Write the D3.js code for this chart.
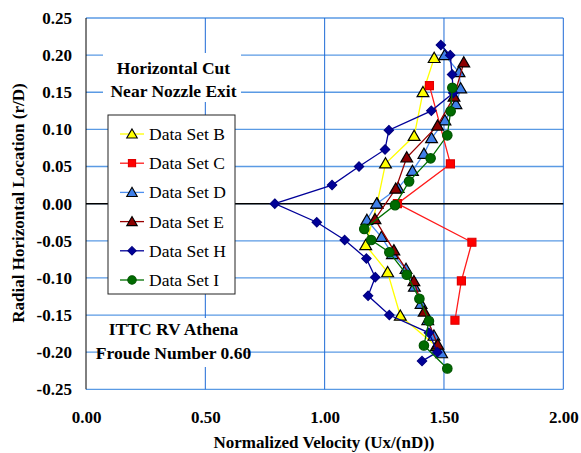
<!DOCTYPE html>
<html><head><meta charset="utf-8">
<script src="https://cdn.jsdelivr.net/npm/d3@7/dist/d3.min.js"></script>
<style>body{margin:0;background:#fff;} svg{display:block;}</style>
</head><body>
<svg id="c" width="581" height="453"></svg>
<script>
const seriesNames = ["Data Set B","Data Set C","Data Set D","Data Set E","Data Set H","Data Set I"];
const xTicks = [0, 0.5, 1.0, 1.5, 2.0];
const yTicks = [0.25,0.20,0.15,0.10,0.05,0.00,-0.05,-0.10,-0.15,-0.20,-0.25];

const B_y = [0.196,0.150,0.091,0.054,0.000,-0.056,-0.0925,-0.151,-0.192];
const B_x = [1.459,1.412,1.375,1.255,1.220,1.172,1.264,1.317,1.468];
const C_y = [0.159,0.0535,0.000,-0.052,-0.104,-0.157];
const C_x = [1.439,1.527,1.305,1.617,1.573,1.546];
const D_y = [0.200,0.177,0.155,0.134,0.112,0.088,0.067,0.044,0.021,0.000,-0.022,-0.045,-0.068,-0.088,-0.112,-0.135,-0.157,-0.178,-0.2016];
const D_x = [1.503,1.563,1.570,1.550,1.504,1.448,1.416,1.368,1.308,1.218,1.177,1.238,1.284,1.341,1.376,1.404,1.432,1.458,1.490];
const E_y = [0.190,0.144,0.105,0.062,0.020,-0.021,-0.063,-0.1046,-0.1455,-0.190];
const E_x = [1.583,1.542,1.473,1.344,1.298,1.211,1.290,1.374,1.417,1.474];
const H_y = [0.2135,0.200,0.174,0.149,0.125,0.099,0.073,0.050,0.025,0.000,-0.025,-0.049,-0.074,-0.099,-0.124,-0.150,-0.174,-0.200,-0.212];
const H_x = [1.487,1.526,1.534,1.539,1.447,1.269,1.253,1.144,1.031,0.791,0.967,1.084,1.175,1.212,1.182,1.271,1.437,1.472,1.408];
const I_y = [0.156,0.1245,0.092,0.061,0.030,-0.002,-0.034,-0.049,-0.0655,-0.0957,-0.128,-0.158,-0.191,-0.222];
const I_x = [1.535,1.528,1.514,1.444,1.354,1.295,1.166,1.195,1.271,1.344,1.397,1.437,1.416,1.514];

const styles = [
  {line:"#ffff00", fill:"#ffff00", stroke:"#000", sym:d3.symbolTriangle, size:60},
  {line:"#ff1a1a", fill:"#ff0000", stroke:"#e00000", sym:d3.symbolSquare, size:64},
  {line:"#4d8ff0", fill:"#3f7fe8", stroke:"#000", sym:d3.symbolTriangle, size:60},
  {line:"#990000", fill:"#8b0000", stroke:"#000", sym:d3.symbolTriangle, size:60},
  {line:"#000099", fill:"#000099", stroke:"#000080", sym:d3.symbolDiamond2, size:55},
  {line:"#007000", fill:"#006b00", stroke:"#005500", sym:d3.symbolCircle, size:70}
];
const seriesData = [[B_x,B_y],[C_x,C_y],[D_x,D_y],[E_x,E_y],[H_x,H_y],[I_x,I_y]];

const svg = d3.select("#c");
const x = d3.scaleLinear().domain([0,2]).range([86,563.3]);
const y = d3.scaleLinear().domain([-0.25,0.25]).range([389.3,18]);
const serif = "'Liberation Serif','Times New Roman',serif";

// gridlines
svg.append("g").selectAll("line").data(yTicks).join("line")
  .attr("x1", x(0)).attr("x2", x(2)).attr("y1", d=>y(d)).attr("y2", d=>y(d))
  .attr("stroke", "#5a9ae4").attr("stroke-width", 1.3);
svg.append("g").selectAll("line").data(xTicks.slice(1)).join("line")
  .attr("x1", d=>x(d)).attr("x2", d=>x(d)).attr("y1", y(0.25)).attr("y2", y(-0.25))
  .attr("stroke", "#1e6ad6").attr("stroke-width", 1);
// zero line and left axis
svg.append("line").attr("x1", x(0)).attr("x2", x(2)).attr("y1", y(0)).attr("y2", y(0))
  .attr("stroke", "#000").attr("stroke-width", 1.5);
svg.append("line").attr("x1", x(0)).attr("x2", x(0)).attr("y1", y(0.25)).attr("y2", y(-0.25))
  .attr("stroke", "#000").attr("stroke-width", 1);

// white text backgrounds
svg.append("rect").attr("x",103).attr("y",53).attr("width",138).attr("height",49).attr("fill","#fff");
svg.append("rect").attr("x",103).attr("y",318).attr("width",141).attr("height",49).attr("fill","#fff");

// axes labels via d3 axis (text only)
const yAxis = d3.axisLeft(y).tickValues(yTicks).tickFormat(d3.format(".2f")).tickSize(0).tickPadding(14);
const gy = svg.append("g").attr("transform", `translate(${x(0)},0)`).call(yAxis);
gy.select(".domain").remove();
gy.selectAll("text").attr("font-family", serif).attr("font-weight","bold").attr("font-size","17px").attr("fill","#000")
  .text(d => d3.format(".2f")(d).replace("−","-"));
const xAxis = d3.axisBottom(x).tickValues(xTicks).tickFormat(d3.format(".2f")).tickSize(0).tickPadding(22);
const gx = svg.append("g").attr("transform", `translate(0,${y(-0.25)})`).call(xAxis);
gx.select(".domain").remove();
gx.selectAll("text").attr("font-family", serif).attr("font-weight","bold").attr("font-size","17px").attr("fill","#000");

// series
seriesData.forEach((s,i)=>{
  const pts = s[0].map((vx,k)=>[vx, s[1][k]]);
  const st = styles[i];
  svg.append("path").datum(pts)
    .attr("d", d3.line().x(d=>x(d[0])).y(d=>y(d[1])))
    .attr("fill","none").attr("stroke", st.line).attr("stroke-width", 1.3);
  svg.append("g").selectAll("path").data(pts).join("path")
    .attr("transform", d=>`translate(${x(d[0])},${y(d[1]) + (st.sym===d3.symbolTriangle?1:0)})`)
    .attr("d", d3.symbol().type(st.sym).size(st.size))
    .attr("fill", st.fill).attr("stroke", st.stroke).attr("stroke-width", 1.2);
});

// legend
const lg = svg.append("g");
lg.append("rect").attr("x",108).attr("y",115).attr("width",127).attr("height",179)
  .attr("fill","#fff").attr("stroke","#222").attr("stroke-width",1);
seriesNames.forEach((n,i)=>{
  const yy = 134 + i*29.2;
  const st = styles[i];
  lg.append("line").attr("x1",120).attr("x2",144).attr("y1",yy).attr("y2",yy).attr("stroke",st.line).attr("stroke-width",1.3);
  lg.append("path").attr("transform",`translate(132,${yy + (st.sym===d3.symbolTriangle?1:0)})`)
    .attr("d", d3.symbol().type(st.sym).size(st.size*0.8))
    .attr("fill", st.fill).attr("stroke", st.stroke).attr("stroke-width", 1.1);
  lg.append("text").attr("x",149).attr("y",yy+6).text(n)
    .attr("font-family", serif).attr("font-size","17.5px").attr("fill","#000");
});

// annotations
const ann = [["Horizontal Cut",73.5],["Near Nozzle Exit",97],["ITTC RV Athena",335],["Froude Number 0.60",358.5]];
svg.append("g").selectAll("text").data(ann).join("text")
  .attr("x",173.5).attr("y",d=>d[1]).attr("text-anchor","middle")
  .attr("font-family", serif).attr("font-weight","bold").attr("font-size","17.5px").attr("fill","#000")
  .text(d=>d[0]);

// axis titles
svg.append("text").attr("x",324).attr("y",448).attr("text-anchor","middle")
  .attr("font-family", serif).attr("font-weight","bold").attr("font-size","17px").text("Normalized Velocity (Ux/(nD))");
svg.append("text").attr("transform","translate(24,203) rotate(-90)").attr("text-anchor","middle")
  .attr("font-family", serif).attr("font-weight","bold").attr("font-size","17px").text("Radial Horizontal Location (r/D)");
</script>
</body></html>
